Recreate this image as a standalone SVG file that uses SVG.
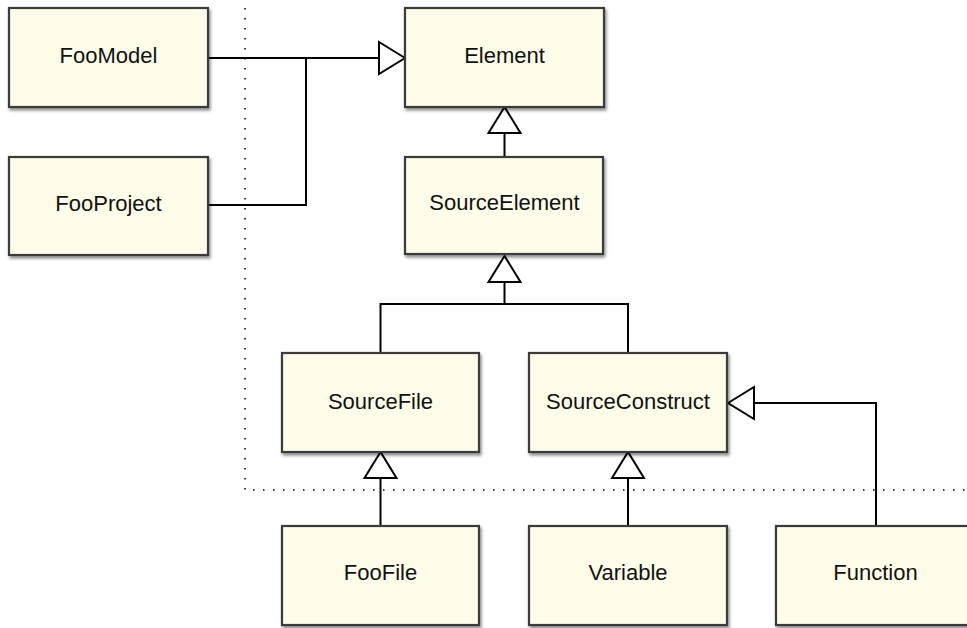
<svg xmlns="http://www.w3.org/2000/svg" width="967" height="628" viewBox="0 0 967 628">
<defs>
<filter id="sh" x="-10%" y="-10%" width="130%" height="130%">
<feDropShadow dx="1.5" dy="2.5" stdDeviation="1.8" flood-color="#000" flood-opacity="0.45"/>
</filter>
<style>
.box{fill:#fdfdea;stroke:#3a3a3a;stroke-width:2.2;filter:url(#sh)}
.lbl{font-family:"Liberation Sans",Arial,sans-serif;font-size:22px;fill:#111;text-anchor:middle}
.ln{fill:none;stroke:#000;stroke-width:2}
.tri{fill:#fff;stroke:#000;stroke-width:2;stroke-linejoin:miter}
.dot{fill:none;stroke:#000;stroke-width:1.5;stroke-dasharray:1.5 8.5}
</style>
</defs>
<rect width="967" height="628" fill="#fff"/>
<g id="boundary">
<path class="dot" d="M245 8 V490 H967"/>
</g>
<g id="connectors">
<path class="ln" d="M208 58 H380 M208 205 H306 V58"/>
<polygon class="tri" points="405,58 379,42 379,74"/>
<path class="ln" d="M504.5 133 V157"/>
<polygon class="tri" points="504.5,107 488.5,133 520.5,133"/>
<path class="ln" d="M504.5 282 V304 M380.5 352 V304 H628 V352"/>
<polygon class="tri" points="504.5,256 488.5,282 520.5,282"/>
<path class="ln" d="M380.5 478 V526"/>
<polygon class="tri" points="380.5,452 364.5,478 396.5,478"/>
<path class="ln" d="M628 478 V526"/>
<polygon class="tri" points="628,452 612,478 644,478"/>
<path class="ln" d="M754 403 H876 V526"/>
<polygon class="tri" points="728,403 754,387 754,419"/>
</g>
<g id="FooModel"><rect class="box" x="9" y="8" width="199" height="99"/><text class="lbl" x="108.5" y="63">FooModel</text></g>
<g id="FooProject"><rect class="box" x="9" y="157" width="199" height="98"/><text class="lbl" x="108.5" y="211">FooProject</text></g>
<g id="Element"><rect class="box" x="405" y="8" width="199" height="99"/><text class="lbl" x="504.5" y="63">Element</text></g>
<g id="SourceElement"><rect class="box" x="405" y="157" width="198" height="97"/><text class="lbl" x="504.5" y="210">SourceElement</text></g>
<g id="SourceFile"><rect class="box" x="282" y="353" width="197" height="99"/><text class="lbl" x="380.5" y="409">SourceFile</text></g>
<g id="SourceConstruct"><rect class="box" x="529" y="353" width="198" height="99"/><text class="lbl" x="628" y="409">SourceConstruct</text></g>
<g id="FooFile"><rect class="box" x="282" y="526" width="197" height="99"/><text class="lbl" x="380.5" y="580">FooFile</text></g>
<g id="Variable"><rect class="box" x="529" y="526" width="198" height="99"/><text class="lbl" x="628" y="580">Variable</text></g>
<g id="Function"><rect class="box" x="776" y="526" width="199" height="99"/><text class="lbl" x="875.5" y="580">Function</text></g>
</svg>
